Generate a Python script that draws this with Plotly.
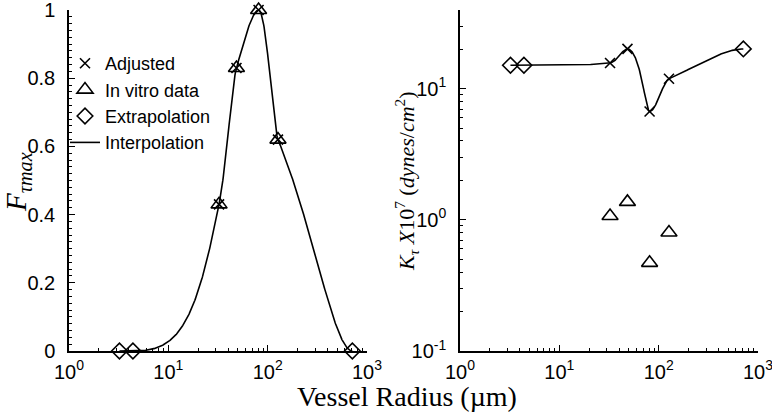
import numpy as np
import plotly.graph_objects as go

# ---------------- data ----------------
radius = [3.22, 4.4, 32.4, 48.5, 81.0, 127.0, 712.0]          # vessel radius (um)
f_tau_max = [0.0, 0.0, 0.43, 0.83, 1.0, 0.62, 0.0]             # interpolation nodes, left panel
vitro_radius = [32.4, 48.5, 81.0, 127.0]
f_vitro = [0.43, 0.83, 1.0, 0.62]                              # in vitro data (left)
f_adjusted = [0.43, 0.83, 1.0, 0.62]                           # adjusted (left)
extrap_radius = [3.22, 4.4, 712.0]
f_extrap = [0.0, 0.0, 0.0]                                     # extrapolation (left)

k_nodes = [15.1, 15.1, 15.7, 20.1, 6.7, 11.9, 20.1]            # interpolation nodes, right panel
k_adjusted = [15.7, 20.1, 6.7, 11.9]
k_vitro = [1.07, 1.37, 0.47, 0.80]
k_extrap = [15.1, 15.1, 20.1]

x_ticktext = ["10<sup>0</sup>", "10<sup>1</sup>", "10<sup>2</sup>", "10<sup>3</sup>"]
y_ticktext = ["0", "0.2", "0.4", "0.6", "0.8", "1"]
y2_ticktext = ["10<sup>-1</sup>", "10<sup>0</sup>", "10<sup>1</sup>"]


# -------- shape-preserving (PCHIP) interpolation --------
def pchip(x, y, xq):
    x = np.asarray(x, float)
    y = np.asarray(y, float)
    h = np.diff(x)
    s = np.diff(y) / h
    n = len(x)
    d = np.zeros(n)
    for k in range(1, n - 1):
        if s[k - 1] * s[k] > 0:
            w1 = 2 * h[k] + h[k - 1]
            w2 = h[k] + 2 * h[k - 1]
            d[k] = (w1 + w2) / (w1 / s[k - 1] + w2 / s[k])

    def edge(h0, h1, s0, s1):
        dd = ((2 * h0 + h1) * s0 - h0 * s1) / (h0 + h1)
        if np.sign(dd) != np.sign(s0):
            dd = 0.0
        elif np.sign(s0) != np.sign(s1) and abs(dd) > abs(3 * s0):
            dd = 3 * s0
        return dd

    d[0] = edge(h[0], h[1], s[0], s[1])
    d[-1] = edge(h[-1], h[-2], s[-1], s[-2])
    xq = np.asarray(xq, float)
    idx = np.clip(np.searchsorted(x, xq) - 1, 0, n - 2)
    t = (xq - x[idx]) / h[idx]
    h00 = 2 * t**3 - 3 * t**2 + 1
    h10 = t**3 - 2 * t**2 + t
    h01 = -2 * t**3 + 3 * t**2
    h11 = t**3 - t**2
    return h00 * y[idx] + h10 * h[idx] * d[idx] + h01 * y[idx + 1] + h11 * h[idx] * d[idx + 1]


xq = np.logspace(np.log10(radius[0]), np.log10(radius[-1]), 600)
f_curve = pchip(radius, f_tau_max, xq)
k_curve = pchip(radius, k_nodes, xq)

BLACK = "black"
SANS = "Liberation Sans, Arial, sans-serif"
SERIF = "Liberation Serif, Times New Roman, serif"

fig = go.Figure()

mk_x = dict(symbol="x-thin-open", size=10, color=BLACK, line=dict(color=BLACK, width=1.6))
mk_t = dict(symbol="triangle-up-open", size=14, color=BLACK, line=dict(color=BLACK, width=1.6))
mk_d = dict(symbol="diamond-open", size=12, color=BLACK, line=dict(color=BLACK, width=1.6))

# left panel
fig.add_trace(go.Scatter(x=xq, y=f_curve, mode="lines", line=dict(color=BLACK, width=1.6),
                         name="Interpolation", legendrank=4, cliponaxis=False, xaxis="x", yaxis="y"))
fig.add_trace(go.Scatter(x=vitro_radius, y=f_adjusted, mode="markers", marker=mk_x,
                         name="Adjusted", legendrank=1, cliponaxis=False, xaxis="x", yaxis="y"))
fig.add_trace(go.Scatter(x=vitro_radius, y=f_vitro, mode="markers", marker=mk_t,
                         name="In vitro data", legendrank=2, cliponaxis=False, xaxis="x", yaxis="y"))
fig.add_trace(go.Scatter(x=extrap_radius, y=f_extrap, mode="markers", marker=mk_d,
                         name="Extrapolation", legendrank=3, cliponaxis=False, xaxis="x", yaxis="y"))

# right panel
fig.add_trace(go.Scatter(x=xq, y=k_curve, mode="lines", line=dict(color=BLACK, width=1.6),
                         showlegend=False, cliponaxis=False, xaxis="x2", yaxis="y2"))
fig.add_trace(go.Scatter(x=vitro_radius, y=k_adjusted, mode="markers", marker=mk_x,
                         showlegend=False, cliponaxis=False, xaxis="x2", yaxis="y2"))
fig.add_trace(go.Scatter(x=vitro_radius, y=k_vitro, mode="markers", marker=mk_t,
                         showlegend=False, cliponaxis=False, xaxis="x2", yaxis="y2"))
fig.add_trace(go.Scatter(x=extrap_radius, y=k_extrap, mode="markers", marker=mk_d,
                         showlegend=False, cliponaxis=False, xaxis="x2", yaxis="y2"))

W, H = 772, 415
log_minor = [m * 10**e for e in range(0, 3) for m in range(2, 10)]
log_minor_y = [m * 10**e for e in range(-1, 1) for m in range(2, 10)] + [20, 30]

x_common = dict(type="log", range=[0, 3], tickmode="array",
                tickvals=[1, 10, 100, 1000], ticktext=x_ticktext,
                ticks="inside", ticklen=6, tickwidth=1, tickcolor=BLACK,
                showline=True, linecolor=BLACK, linewidth=1.5, showgrid=False, zeroline=False,
                tickfont=dict(family=SANS, size=20, color=BLACK), automargin=False,
                ticklabelstandoff=2, ticklabeloverflow="allow",
                minor=dict(tickmode="array", tickvals=log_minor, ticks="inside",
                           ticklen=3, tickwidth=1, tickcolor=BLACK, showgrid=False))

fig.update_layout(
    width=W, height=H,
    margin=dict(l=0, r=0, t=10, b=64),
    paper_bgcolor="white", plot_bgcolor="white",
    showlegend=True,
    legend=dict(x=65 / W, y=(351 - 45) / 341, xanchor="left", yanchor="top",
                bgcolor="rgba(0,0,0,0)", font=dict(family=SANS, size=18, color=BLACK),
                itemwidth=30, tracegroupgap=0),
    xaxis=dict(x_common, domain=[69 / W, 367 / W], anchor="y"),
    xaxis2=dict(x_common, domain=[460 / W, 758 / W], anchor="y2"),
    yaxis=dict(range=[0, 1], tickmode="array", tickvals=[0, 0.2, 0.4, 0.6, 0.8, 1],
               ticktext=y_ticktext,
               ticks="inside", ticklen=6, tickwidth=1, tickcolor=BLACK,
               showline=True, linecolor=BLACK, linewidth=1.5, showgrid=False, zeroline=False,
               tickfont=dict(family=SANS, size=20, color=BLACK), ticklabelstandoff=8,
               automargin=False, ticklabeloverflow="allow",
               minor=dict(dtick=0.02, tick0=0, ticks="inside", ticklen=3, tickwidth=1,
                          tickcolor=BLACK, showgrid=False),
               anchor="x", domain=[0, 1]),
    yaxis2=dict(type="log", range=[-1, 1.6], tickmode="array", tickvals=[0.1, 1, 10],
                ticktext=y2_ticktext,
                ticks="inside", ticklen=6, tickwidth=1, tickcolor=BLACK,
                showline=True, linecolor=BLACK, linewidth=1.5, showgrid=False, zeroline=False,
                tickfont=dict(family=SANS, size=20, color=BLACK), ticklabelstandoff=8,
                automargin=False, ticklabeloverflow="allow",
                minor=dict(tickmode="array", tickvals=log_minor_y, ticks="inside", ticklen=3,
                           tickwidth=1, tickcolor=BLACK, showgrid=False),
                anchor="x2", domain=[0, 1]),
    annotations=[
        dict(text="Vessel Radius (µm)", xref="paper", yref="paper", x=407 / W,
             y=(351 - 397) / 341, xanchor="center", yanchor="middle", showarrow=False,
             font=dict(family=SERIF, size=28, color=BLACK)),
        dict(text="<i>F</i><sub><i>τmax</i></sub>", xref="paper", yref="paper", x=18 / W,
             y=(351 - 182) / 341, xanchor="center", yanchor="middle", showarrow=False,
             textangle=-90, font=dict(family=SERIF, size=29, color=BLACK)),
        dict(text="<i>K</i><sub><i>τ</i></sub> <i>X</i>10<sup>7</sup> (<i>dynes</i>/<i>cm</i><sup>2</sup>)",
             xref="paper", yref="paper", x=406 / W, y=(351 - 181) / 341,
             xanchor="center", yanchor="middle", showarrow=False, textangle=-90,
             font=dict(family=SERIF, size=22, color=BLACK)),
    ],
)

fig.write_html("out.html", config={"displayModeBar": False},
               post_script="document.body.style.margin='0';")
